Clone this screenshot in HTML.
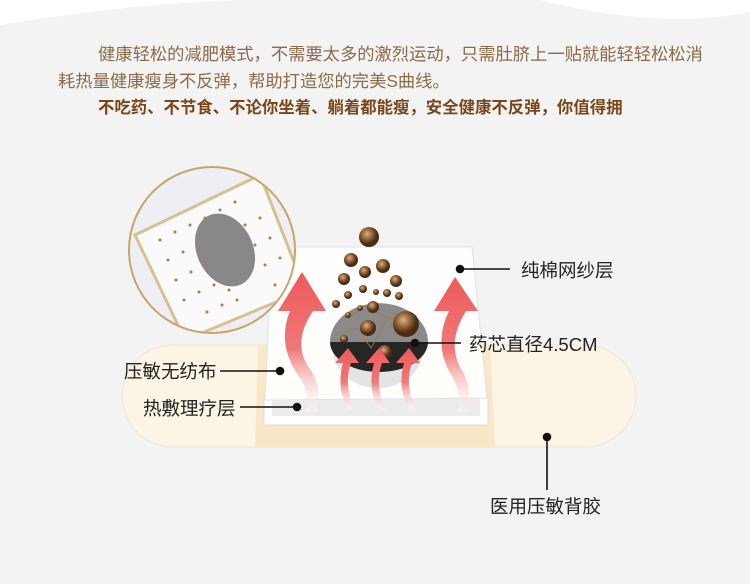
<!DOCTYPE html>
<html><head><meta charset="utf-8"><style>
body{margin:0;width:750px;height:584px;overflow:hidden;background:#f3f3f3;font-family:"Liberation Sans","Noto Sans CJK SC",sans-serif;position:relative}
.t{position:absolute;white-space:nowrap;font-size:17.3px;color:#8b6a48}
.b{font-weight:bold;color:#7a4618;font-size:16.4px}
.l{position:absolute;white-space:nowrap;font-size:18.5px;color:#222}
</style></head><body>
<svg width="750" height="584" style="position:absolute;left:0;top:0">
<defs>
<linearGradient id="arr" x1="0" y1="1" x2="0" y2="0"><stop offset="0" stop-color="#fff" stop-opacity="0.3"/><stop offset="0.45" stop-color="#f07878"/><stop offset="1" stop-color="#ee5a5a"/></linearGradient>
<radialGradient id="ball" cx="0.4" cy="0.35"><stop offset="0" stop-color="#d9b089"/><stop offset="0.6" stop-color="#8a5a30"/><stop offset="1" stop-color="#4a2c14"/></radialGradient>
<clipPath id="cc"><circle cx="212" cy="250" r="82"/></clipPath>
</defs>
<path d="M0 25 Q180 -5 330 0 L0 0Z" fill="#fff"/>
<path d="M540 0 Q660 30 750 12 L750 0Z" fill="#fff"/>
<rect x="122" y="345" width="514" height="102" rx="51" fill="#fcf5e6" stroke="#ebe4d8"/>
<path d="M258 345 L490 345 L495 447 L255 447Z" fill="#f8e8c8"/>
<rect x="264" y="395" width="224" height="30" fill="#fff" stroke="#ddd"/>
<rect x="272" y="398" width="208" height="18" fill="#ececec"/>
<path d="M272 247 L472 247 L487 398 L265 400Z" fill="#fff" fill-opacity="0.92" stroke="#e2e2e2"/>
<ellipse cx="378" cy="350" rx="45" ry="38" fill="#e4e4e4"/>
<path d="M330 342 A48 38 0 0 1 428 342Z" fill="#8a8a8a"/>
<path d="M330 342 L428 342 A49 30 0 0 1 330 342Z" fill="#262626"/>
<g stroke="#a07a50" stroke-width="0.8" fill="none"><path d="M348 318 L365 306 L388 318 L409 320 M357 328 L371 348 L388 318 M340 335 L357 328"/></g>
<g fill="url(#ball)">
<circle cx="369" cy="237" r="10"/><circle cx="351" cy="260" r="7"/><circle cx="365" cy="272" r="6"/><circle cx="383" cy="266" r="7"/>
<circle cx="344" cy="279" r="6"/><circle cx="363" cy="289" r="4"/><circle cx="396" cy="281" r="6"/><circle cx="348" cy="295" r="4"/>
<circle cx="376" cy="292" r="3"/><circle cx="387" cy="293" r="4"/><circle cx="336" cy="304" r="4"/><circle cx="399" cy="296" r="4"/>
<circle cx="373" cy="307" r="6"/><circle cx="368" cy="328" r="8"/><circle cx="406" cy="324" r="13"/><circle cx="344" cy="339" r="4"/><circle cx="385" cy="352" r="7"/><circle cx="348" cy="315" r="3"/><circle cx="360" cy="308" r="3"/>
</g>
<g fill="url(#arr)">
<path d="M290 311 L278 311 L302 272 L326 311 L313 311 Q290 345 312 372 Q322 390 317 412 L306 412 Q310 392 300 378 Q276 345 290 311Z"/>
<path d="M449 311 L434 311 L455 277 L478 311 L466 311 Q445 345 463 372 Q472 390 468 412 L458 412 Q461 392 453 378 Q432 345 449 311Z"/>
<path d="M343 363 L351 363 Q343 385 355 410 L348 410 Q336 388 343 363 L335 363 L348 348 L359 363Z"/>
<path d="M374 363 L382 363 Q374 385 386 410 L379 410 Q367 388 374 363 L366 363 L379 348 L390 363Z"/>
<path d="M404 363 L412 363 Q404 385 416 410 L409 410 Q397 388 404 363 L396 363 L409 348 L420 363Z"/>
</g>
<circle cx="212" cy="250" r="84" fill="#c9a46a"/>
<g clip-path="url(#cc)">
<rect x="120" y="160" width="190" height="190" fill="#eeeff4"/>
<path d="M135 235 L260 175 L305 290 L185 340Z" fill="#fafafa" stroke="#d8c090" stroke-width="3"/>
<ellipse cx="225" cy="250" rx="28" ry="38" fill="#888" transform="rotate(-25 225 250)"/>
<g fill="#b08038">
<circle cx="160" cy="240" r="1.5"/><circle cx="175" cy="232" r="1.5"/><circle cx="190" cy="225" r="1.5"/><circle cx="205" cy="218" r="1.5"/><circle cx="220" cy="210" r="1.5"/><circle cx="235" cy="202" r="1.5"/>
<circle cx="168" cy="260" r="1.5"/><circle cx="183" cy="252" r="1.5"/><circle cx="198" cy="245" r="1.5"/><circle cx="245" cy="225" r="1.5"/><circle cx="260" cy="218" r="1.5"/>
<circle cx="176" cy="280" r="1.5"/><circle cx="191" cy="272" r="1.5"/><circle cx="206" cy="265" r="1.5"/><circle cx="255" cy="245" r="1.5"/><circle cx="270" cy="238" r="1.5"/>
<circle cx="184" cy="300" r="1.5"/><circle cx="199" cy="292" r="1.5"/><circle cx="214" cy="285" r="1.5"/><circle cx="229" cy="290" r="1.5"/><circle cx="265" cy="265" r="1.5"/><circle cx="280" cy="258" r="1.5"/>
<circle cx="207" cy="312" r="1.5"/><circle cx="222" cy="305" r="1.5"/><circle cx="237" cy="300" r="1.5"/><circle cx="275" cy="285" r="1.5"/>
</g>
</g>
<g stroke="#111" stroke-width="1.6" fill="#111">
<line x1="460" y1="269" x2="510" y2="269"/><circle cx="460" cy="269" r="3.5"/>
<line x1="415" y1="343" x2="461" y2="343"/><circle cx="415" cy="343" r="3.5"/>
<line x1="220" y1="371" x2="280" y2="371"/><circle cx="280" cy="371" r="3.5"/>
<line x1="240" y1="407" x2="297" y2="407"/><circle cx="297" cy="407" r="3.5"/>
<line x1="547" y1="437" x2="547" y2="490"/><circle cx="547" cy="437" r="3.5"/>
</g>
</svg>
<div class="t" style="left:98px;top:40px">健康轻松的减肥模式，不需要太多的激烈运动，只需肚脐上一贴就能轻轻松松消</div>
<div class="t" style="left:58px;top:67px">耗热量健康瘦身不反弹，帮助打造您的完美S曲线。</div>
<div class="t b" style="left:98px;top:94px">不吃药、不节食、不论你坐着、躺着都能瘦，安全健康不反弹，你值得拥</div>
<div class="l" style="left:521px;top:257px">纯棉网纱层</div>
<div class="l" style="left:469px;top:331px">药芯直径4.5CM</div>
<div class="l" style="left:124px;top:358px">压敏无纺布</div>
<div class="l" style="left:143px;top:395px">热敷理疗层</div>
<div class="l" style="left:490px;top:493px">医用压敏背胶</div>
</body></html>
